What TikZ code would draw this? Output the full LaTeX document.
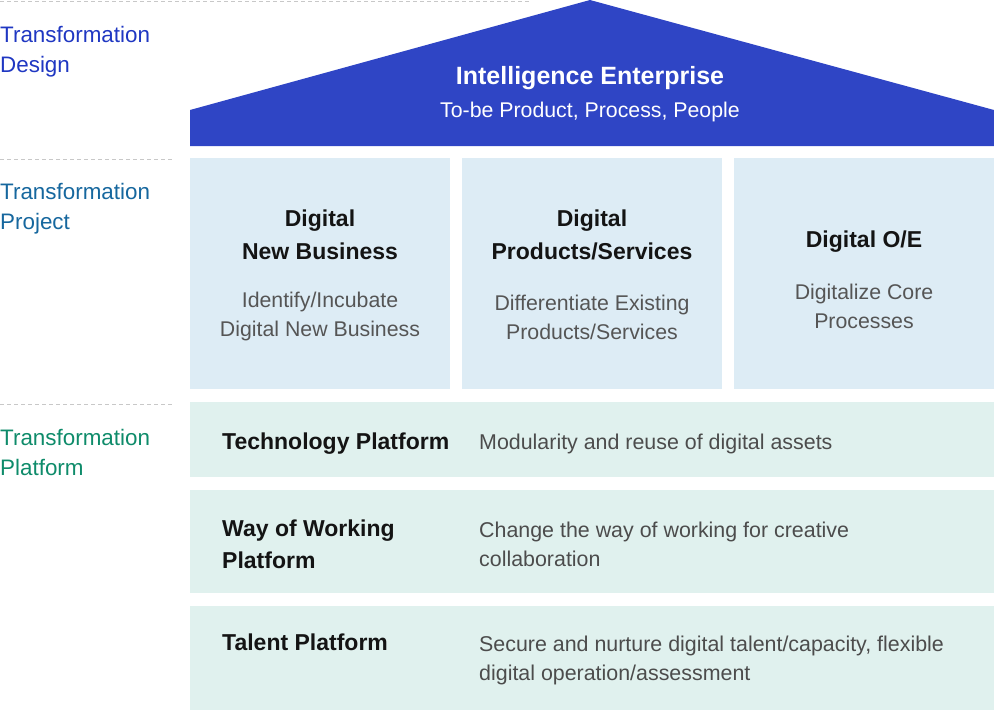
\documentclass[tikz,border=0pt]{standalone}
\usepackage{fontspec}
\setmainfont{Liberation Sans}
\usepackage{tikz}
\usetikzlibrary{positioning}
\usepackage{xcolor}
\definecolor{croof}{HTML}{2F45C5}
\definecolor{cproj}{HTML}{DDECF5}
\definecolor{cplat}{HTML}{E0F1EE}
\definecolor{cdesign}{HTML}{1F37C2}
\definecolor{cproject}{HTML}{16679E}
\definecolor{cplatform}{HTML}{0E8B6A}
\definecolor{cgray}{HTML}{555555}
\definecolor{cdash}{HTML}{C8C8C8}
\tikzset{
  lvl/.style={anchor=west, align=left, inner sep=0pt, yshift=-3pt, font=\fontsize{22.4}{30}\selectfont},
  ttl/.style={align=center, inner sep=0pt, yshift=-2pt, text=black!92, font=\fontsize{23}{33}\selectfont\bfseries},
  sub/.style={align=center, inner sep=0pt, yshift=-2pt, text=cgray, font=\fontsize{21.3}{29}\selectfont},
  rowttl/.style={anchor=west, align=left, inner sep=0pt, yshift=-3pt, text=black!92, font=\fontsize{23}{32}\selectfont\bfseries},
  rowsub/.style={anchor=west, align=left, inner sep=0pt, yshift=-3pt, text=cgray!90!black, font=\fontsize{21.4}{29}\selectfont},
  sep/.style={cdash, line width=1pt, dash pattern=on 4pt off 3pt},
}

\begin{document}
\begin{tikzpicture}[x=1pt, y=-1pt]
  \useasboundingbox (0,0) rectangle (994,710);
  % level separators
  \draw[sep] (0,1) -- (531,1);
  \draw[sep] (0,159) -- (172,159);
  \draw[sep] (0,404) -- (172,404);
  % level labels
  \node[lvl, text=cdesign] (lbldesign) at (0,49) {Transformation\\Design};
  \node[lvl, text=cproject] (lblproject) at (0,206) {Transformation\\Project};
  \node[lvl, text=cplatform] (lblplatform) at (0,449) {Transformation\\Platform};
  % roof
  \fill[croof] (190,110) -- (590,0) -- (994,110) -- (994,146) -- (190,146) -- cycle;
  \node[ttl, text=white, font=\fontsize{25}{30}\selectfont\bfseries] (roofttl) at (590,76) {Intelligence Enterprise};
  \node[sub, text=white] (roofsub) at (590,110) {To-be Product, Process, People};
  % projects
  \fill[cproj] (190,158) rectangle (450,389);
  \fill[cproj] (462,158) rectangle (722,389);
  \fill[cproj] (734,158) rectangle (994,389);
  \node[ttl] (newbiz) at (320,232.5) {Digital\\New Business};
  \node[sub] (newbizsub) at (320,314.5) {Identify/Incubate\\Digital New Business};
  \node[ttl] (prodsvc) at (592,232.5) {Digital\\Products/Services};
  \node[sub] (prodsvcsub) at (592,315.5) {Differentiate Existing\\Products/Services};
  \node[ttl] (oe) at (864,240) {Digital O/E};
  \node[sub] (oesub) at (864,304) {Digitalize Core\\Processes};
  % platforms
  \fill[cplat] (190,402) rectangle (994,477);
  \fill[cplat] (190,490) rectangle (994,593);
  \fill[cplat] (190,606) rectangle (994,710);
  \node[rowttl] (techplat) at (222,441) {Technology Platform};
  \node[rowsub] (techsub) at (479,441) {Modularity and reuse of digital assets};
  \node[rowttl] (wowplat) at (222,541) {Way of Working\\Platform};
  \node[rowsub] (wowsub) at (479,541.5) {Change the way of working for creative\\collaboration};
  \node[rowttl] (talplat) at (222,639) {Talent Platform};
  \node[rowsub] (talsub) at (479,657.5) {Secure and nurture digital talent/capacity, flexible\\digital operation/assessment};
\end{tikzpicture}
\end{document}
